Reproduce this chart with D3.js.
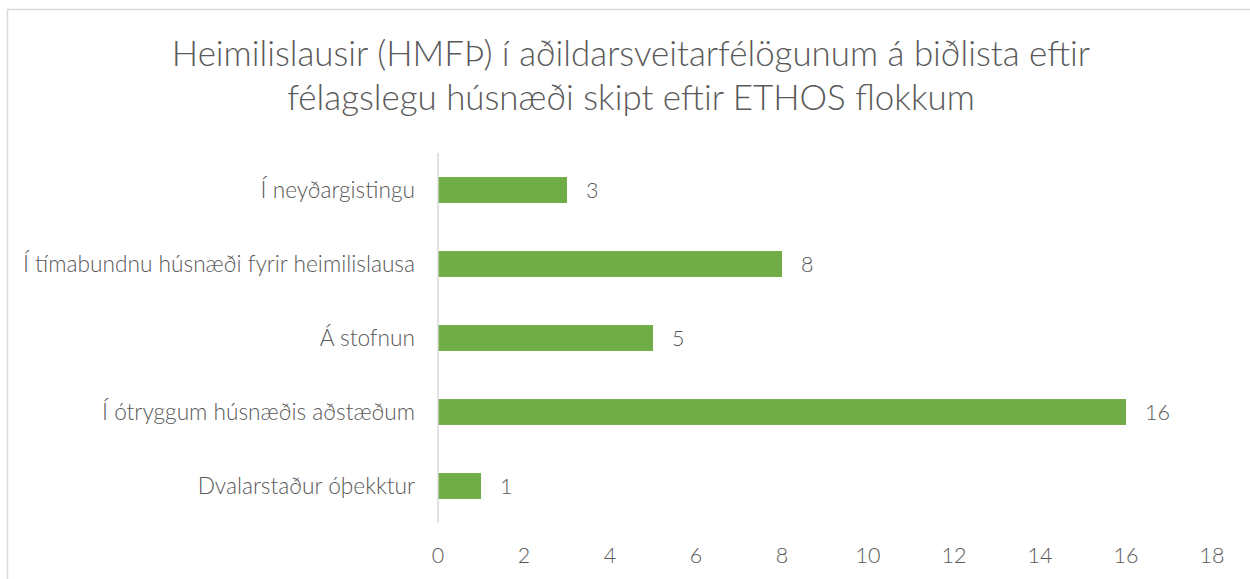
<!DOCTYPE html>
<html>
<head>
<meta charset="utf-8">
<script src="https://cdn.jsdelivr.net/npm/d3@7"></script>
<style>
  body { margin: 0; background: #fff; }
  text { font-family: Lato, "Open Sans", sans-serif; fill: #595959; }
</style>
</head>
<body>
<svg id="chart" width="1250" height="579"></svg>
<script>
// data
const categories = [
  "Í neyðargistingu",
  "Í tímabundnu húsnæði fyrir heimilislausa",
  "Á stofnun",
  "Í ótryggum húsnæðis aðstæðum",
  "Dvalarstaður óþekktur"
];
const values = [3, 8, 5, 16, 1];
const xTicks = [0, 2, 4, 6, 8, 10, 12, 14, 16, 18];
const titleLines = [
  "Heimilislausir (HMFÞ) í aðildarsveitarfélögunum á biðlista eftir",
  "félagslegu húsnæði skipt eftir ETHOS flokkum"
];

const svg = d3.select("#chart");

// chart border
svg.append("rect")
  .attr("x", 7.5).attr("y", 9.5)
  .attr("width", 1250).attr("height", 600)
  .attr("fill", "none")
  .attr("stroke", "#d9d9d9")
  .attr("stroke-width", 1.5);

// title
svg.append("g").selectAll("text")
  .data(titleLines)
  .join("text")
  .attr("x", 631)
  .attr("y", (d, i) => 66 + i * 44)
  .attr("text-anchor", "middle")
  .attr("font-size", "34.9px")
  .attr("font-weight", 300)
  .text(d => d);

const x = d3.scaleLinear().domain([0, 18]).range([438, 1212]);
const y = d3.scaleBand().domain(categories).range([153, 523]).paddingInner(0.65).paddingOuter(0.325);

// x axis tick labels (no line)
svg.append("g").selectAll("text")
  .data(xTicks)
  .join("text")
  .attr("x", d => x(d))
  .attr("y", 563)
  .attr("text-anchor", "middle")
  .attr("font-size", "21.5px")
  .attr("font-weight", 300)
  .text(d => d);

// bars
svg.append("g").selectAll("rect")
  .data(values)
  .join("rect")
  .attr("x", x(0))
  .attr("y", (d, i) => y(categories[i]))
  .attr("width", d => x(d) - x(0))
  .attr("height", y.bandwidth())
  .attr("fill", "#70ad47");

// vertical axis line
svg.append("line")
  .attr("x1", x(0)).attr("x2", x(0))
  .attr("y1", 153).attr("y2", 523)
  .attr("stroke", "#d9d9d9")
  .attr("stroke-width", 1.5);

// category labels
svg.append("g").selectAll("text")
  .data(categories)
  .join("text")
  .attr("x", 415)
  .attr("y", d => y(d) + y.bandwidth() / 2)
  .attr("dy", "0.35em")
  .attr("text-anchor", "end")
  .attr("font-size", "22.7px")
  .attr("font-weight", 300)
  .text(d => d);

// value labels
svg.append("g").selectAll("text")
  .data(values)
  .join("text")
  .attr("x", d => x(d) + 19)
  .attr("y", (d, i) => y(categories[i]) + y.bandwidth() / 2)
  .attr("dy", "0.35em")
  .attr("font-size", "21.5px")
  .attr("font-weight", 300)
  .text(d => d);
</script>
</body>
</html>
